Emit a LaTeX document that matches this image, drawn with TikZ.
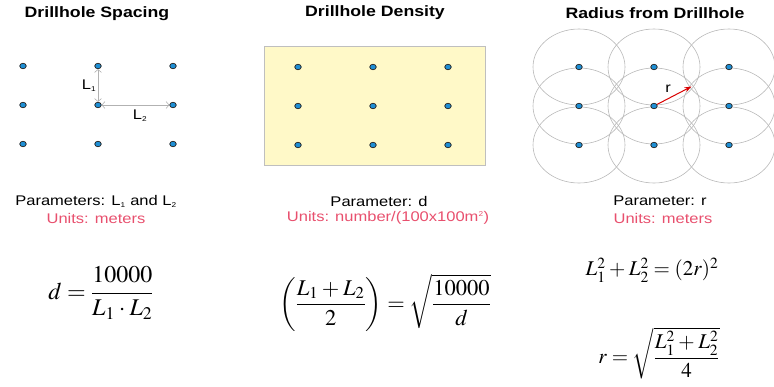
\documentclass[tikz,border=0pt]{standalone}
\usepackage{amsmath}
\usepackage{mathptmx}
\usepackage[no-math]{fontspec}
\setmainfont{Liberation Sans}[FakeStretch=1.18]
\usetikzlibrary{arrows.meta,positioning,shapes.geometric}
\definecolor{hole}{HTML}{1E8FD5}
\definecolor{pink}{HTML}{E8506E}
\definecolor{pale}{HTML}{FFF9C8}
\definecolor{ring}{HTML}{B8B8B8}
\newcommand{\low}[1]{\textsubscript{\fontsize{7}{8}\selectfont #1}}
\newcommand{\high}[1]{\textsuperscript{\fontsize{7}{8}\selectfont #1}}
\newcommand{\tightmath}{\thickmuskip=4mu\relax\medmuskip=3mu\relax}

\begin{document}
\begin{tikzpicture}[
  x=1pt,y=-1pt,
  every node/.style={font=\fontsize{14}{16}\selectfont},
  title/.style={font=\fontsize{15}{17}\selectfont\bfseries},
  hole/.style={ellipse,draw=black!85,fill=hole,inner sep=0pt,minimum width=6.5pt,minimum height=5.5pt,line width=0.7pt},
  unit/.style={text=pink},
  eq/.style={font=\fontsize{24}{28}\selectfont\tightmath},
  smalleq/.style={font=\fontsize{21}{24}\selectfont\tightmath},
  gap/.style={{Straight Barb[length=3pt,width=7pt]}-{Straight Barb[length=3pt,width=7pt]},draw=black!30,line width=0.6pt},
  reach/.style={-{Stealth[length=7pt,width=5pt]},draw=red!85!black,line width=1pt}
]
\useasboundingbox (0,0) rectangle (774,386);
% density area
\draw[draw=black!25,fill=pale] (264,46) rectangle (485,165);
% circles of influence
\foreach \x in {579,654,729}
  \foreach \y in {67,106,145}
    \draw[ring,line width=0.6pt] (\x,\y) ellipse [x radius=46,y radius=38];
% drillholes
\foreach \i/\x in {1/23,2/98,3/173}
  \foreach \j/\y in {1/66,2/105,3/144}
    \node[hole] (s\j\i) at (\x,\y) {};
\foreach \i/\x in {1/298,2/373,3/448}
  \foreach \j/\y in {1/67,2/106,3/145}
    \node[hole] (d\j\i) at (\x,\y) {};
\foreach \i/\x in {1/579,2/654,3/729}
  \foreach \j/\y in {1/67,2/106,3/145}
    \node[hole] (r\j\i) at (\x,\y) {};
% titles
\node[title] (ts) at (97,14) {Drillhole Spacing};
\node[title] (td) at (375,13) {Drillhole Density};
\node[title] (tr) at (655,13) {Radius from Drillhole};
% spacing arrows
\draw[gap] (s22) -- (s12);
\draw[gap] (s22) -- (s23);
\node (l1) at (89,86) {L\low{1}};
\node (l2) at (140,116) {L\low{2}};
% radius arrow
\coordinate (rc) at (691.5,86.5);
\draw[reach] (r22) -- (rc);
\node (rl) at (668,89) {r};
% parameters
\node (ps) at (96,201) {Parameters: L\low{1} and L\low{2}};
\node[unit] (us) at (96,218) {Units: meters};
\node (pd) at (379,201) {Parameter: d};
\node[unit] (ud) at (388,218) {Units: number/(100x100m\high{2})};
\node (pr) at (660,201) {Parameter: r};
\node[unit] (ur) at (663,218) {Units: meters};
% equations
\node[eq] (es) at (101,293) {$d=\dfrac{10000}{L_1\cdot L_2}$};
\node[eq,font=\fontsize{22.5}{26}\selectfont\tightmath] (ed) at (385,303) {$\left(\dfrac{L_1+L_2}{2}\right)=\sqrt{\dfrac{10000}{d}}$};
\node[smalleq] (er1) at (652,270) {$L_1^2+L_2^2=(2r)^2$};
\node[smalleq] (er2) at (659,353) {$r=\sqrt{\dfrac{L_1^2+L_2^2}{4}}$};
\end{tikzpicture}
\end{document}
